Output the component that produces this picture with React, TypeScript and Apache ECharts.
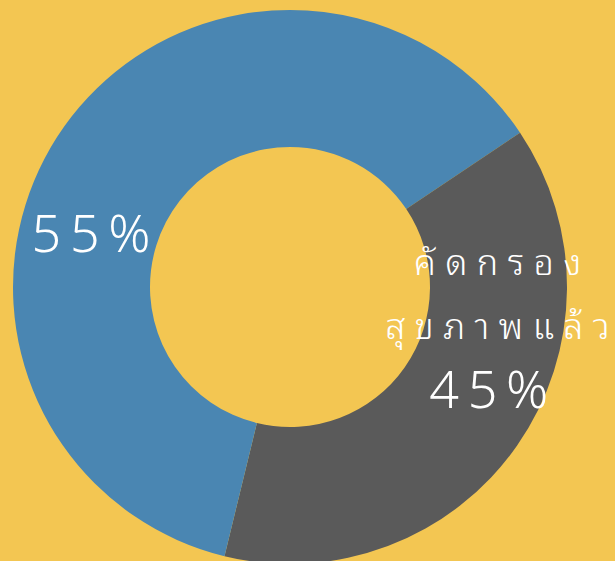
import React, { useEffect, useRef } from "react";
import * as echarts from "echarts";

const categories = ["ยังไม่คัดกรอง (ส่วนบน)", "คัดกรองสุขภาพแล้ว", "ยังไม่คัดกรอง"];
const values = [15.6, 38.2, 46.2];
const labelTexts = [
  "",
  "{t|คั ด ก ร อ ง}\n{t|สุ ข ภ า พ แ ล้ ว}\n{n|4\u20095\u2009%\u2009\u2009}",
  "{n|5\u20095\u2009%}",
];
const colors = ["#4A86B2", "#5A5A5A", "#4A86B2"];

export default function App() {
  const ref = useRef<HTMLDivElement>(null);
  useEffect(() => {
    const chart = echarts.init(ref.current!, null, { renderer: "svg" });
    const thai = "'Noto Sans Thai Looped', 'Noto Looped Thai', Loma, Garuda, Waree, 'Noto Sans Thai', 'Noto Sans', sans-serif";
    const num = "'Noto Sans', Roboto, sans-serif";
    chart.setOption({
      animation: false,
      backgroundColor: "#F3C652",
      series: [
        {
          type: "pie",
          center: [290, 287],
          radius: [140, 277],
          startAngle: 90,
          clockwise: true,
          silent: true,
          labelLine: { show: false },
          data: categories.map((name, i) => ({
            name,
            value: values[i],
            itemStyle: { color: colors[i] },
            label: {
              show: labelTexts[i] !== "",
              position: "inside",
              formatter: labelTexts[i],
              offset: i === 1 ? [34, -85] : [11, -30],
              color: "#fff",
              align: "center",
              rich: {
                t: { fontSize: 36, lineHeight: 64, color: "#fff", fontFamily: thai, fontWeight: 300 },
                n: { fontSize: 52, lineHeight: 64, color: "#fff", fontFamily: num, fontWeight: 300 },
              },
            },
          })),
        },
      ],
    });
    return () => chart.dispose();
  }, []);
  return <div ref={ref} style={{ position: "fixed", left: 0, top: 0, width: 615, height: 561 }} />;
}
